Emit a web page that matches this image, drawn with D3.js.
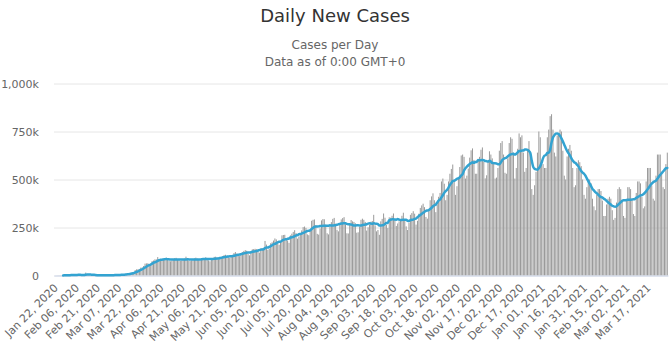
<!DOCTYPE html>
<html><head><meta charset="utf-8">
<script src="https://cdn.jsdelivr.net/npm/d3@7"></script>
<style>body{margin:0;background:#fff} svg{display:block}</style>
</head><body>
<svg id="chart" width="670" height="348"></svg>
<script>
// ---- DATA (daily new cases, thousands) ----
const startDate = "2020-01-22";
const cases2020Jan = [0.1, 0.1, 0.3, 0.7, 0.7, 0.8, 1.8, 1.5, 2.0, 2.1];
const cases2020Feb = [2.6, 2.8, 3.2, 3.9, 3.7, 3.2, 3.4, 2.7, 3.0, 2.6, 2.0, 2.0, 15.1, 6.5, 2.1, 2.1, 2.0, 1.9, 1.7, 0.5, 1.0, 1.0, 0.6, 0.6, 0.9, 1.0, 1.3, 1.8, 1.8];
const cases2020Mar = [2.1, 1.9, 2.4, 2.3, 2.7, 3.9, 3.9, 3.9, 4.0, 4.4, 7.1, 7.4, 10.5, 10.8, 11.0, 14.0, 15.8, 18.0, 28.5, 32.0, 32.3, 34.3, 41.0, 41.6, 49.5, 62.0, 63.0, 64.0, 59.0, 60.0, 75.0];
const cases2020Apr = [78, 84, 84, 96, 80, 76, 80, 86, 90, 93, 85, 78, 74, 78, 84, 90, 92, 86, 80, 76, 78, 80, 88, 98, 90, 77, 75, 79, 79, 89];
const cases2020May = [93, 88, 80, 78, 82, 90, 91, 95, 89, 79, 74, 86, 89, 97, 98, 93, 84, 90, 94, 101, 107, 108, 101, 95, 92, 99, 106, 117, 122, 114, 105];
const cases2020Jun = [101, 114, 122, 128, 132, 129, 112, 105, 123, 136, 138, 139, 137, 134, 119, 141, 142, 144, 180, 161, 134, 140, 168, 173, 182, 193, 188, 164, 160, 173];
const cases2020Jul = [209, 211, 212, 191, 182, 170, 209, 218, 227, 236, 221, 192, 203, 216, 235, 252, 255, 248, 214, 210, 232, 285, 290, 292, 262, 217, 213, 245, 287, 294, 293];
const cases2020Aug = [265, 220, 214, 256, 278, 295, 300, 270, 238, 230, 271, 292, 299, 304, 267, 220, 219, 264, 289, 282, 279, 272, 223, 225, 253, 290, 296, 290, 279, 234, 251];
const cases2020Sep = [265, 280, 284, 316, 261, 230, 237, 212, 282, 295, 323, 301, 263, 247, 303, 301, 311, 323, 293, 258, 271, 282, 289, 311, 327, 294, 256, 237, 275, 316];
const cases2020Oct = [325, 335, 322, 265, 285, 322, 352, 365, 374, 356, 305, 296, 335, 392, 412, 428, 392, 330, 370, 410, 430, 490, 505, 478, 392, 420, 490, 530, 555, 578, 490];
const cases2020Nov = [420, 465, 505, 565, 625, 630, 618, 505, 520, 557, 614, 652, 662, 602, 530, 530, 608, 618, 655, 667, 592, 506, 522, 592, 647, 630, 610, 590, 505, 510];
const cases2020Dec = [560, 650, 690, 700, 630, 535, 530, 610, 690, 720, 712, 640, 505, 560, 660, 740, 720, 730, 640, 540, 560, 650, 700, 640, 450, 420, 470, 540, 640, 750, 720];
const cases2021Jan = [580, 580, 560, 560, 720, 760, 830, 840, 760, 640, 620, 730, 740, 760, 750, 650, 520, 500, 620, 660, 680, 650, 560, 460, 470, 560, 600, 590, 570, 500, 420];
const cases2021Feb = [400, 460, 500, 500, 480, 400, 360, 340, 420, 450, 450, 440, 390, 310, 310, 370, 400, 410, 400, 340, 290, 300, 380, 450, 460, 450, 390, 310];
const cases2021Mar = [300, 390, 460, 460, 450, 400, 320, 310, 430, 490, 490, 480, 410, 350, 360, 490, 560, 560, 560, 470, 400, 390, 520, 630, 630, 630, 530, 460, 450, 580, 640];

const yTickValues = [0, 250, 500, 750, 1000];
const yTickLabels = ["0", "250k", "500k", "750k", "1,000k"];
const xTickLabels = ["Jan 22, 2020","Feb 06, 2020","Feb 21, 2020","Mar 07, 2020","Mar 22, 2020","Apr 06, 2020","Apr 21, 2020","May 06, 2020","May 21, 2020","Jun 05, 2020","Jun 20, 2020","Jul 05, 2020","Jul 20, 2020","Aug 04, 2020","Aug 19, 2020","Sep 03, 2020","Sep 18, 2020","Oct 03, 2020","Oct 18, 2020","Nov 02, 2020","Nov 17, 2020","Dec 02, 2020","Dec 17, 2020","Jan 01, 2021","Jan 16, 2021","Jan 31, 2021","Feb 15, 2021","Mar 02, 2021","Mar 17, 2021"];
const titleText = "Daily New Cases";
const subtitleLines = ["Cases per Day", "Data as of 0:00 GMT+0"];
const avgWindow = 7;

// ---- BUILD ----
const daily = [].concat(cases2020Jan, cases2020Feb, cases2020Mar, cases2020Apr, cases2020May, cases2020Jun,
  cases2020Jul, cases2020Aug, cases2020Sep, cases2020Oct, cases2020Nov, cases2020Dec,
  cases2021Jan, cases2021Feb, cases2021Mar);
const parseDate = d3.timeParse("%Y-%m-%d"), fmtDate = d3.timeFormat("%b %d, %Y");
const t0 = parseDate(startDate);
const dates = daily.map((_, i) => fmtDate(d3.timeDay.offset(t0, i)));
const movingAvg = daily.map((_, i) => i >= avgWindow - 1 ? d3.mean(daily.slice(i - avgWindow + 1, i + 1)) : null);

const W = 670, H = 348;
const mLeft = 54, mRight = 668, mTop = 83.5, mBottom = 275.5;
const svg = d3.select("#chart");
const font = "'DejaVu Sans', 'Open Sans', sans-serif";

const x = d3.scaleBand().domain(dates).range([mLeft, mRight]).paddingInner(0.3).paddingOuter(0.15);
const y = d3.scaleLinear().domain([0, 1000]).range([mBottom, mTop]);

// title
svg.append("text").attr("x", W / 2).attr("y", 22).attr("text-anchor", "middle")
  .attr("font-family", font).attr("font-size", 18).attr("fill", "#333").text(titleText);
svg.append("g").selectAll("text").data(subtitleLines).join("text")
  .attr("x", W / 2).attr("y", (d, i) => 49 + i * 17).attr("text-anchor", "middle")
  .attr("font-family", font).attr("font-size", 12).attr("fill", "#666").text(d => d);

// grid + y labels
const yAxis = d3.axisLeft(y).tickValues(yTickValues).tickSize(-(mRight - mLeft)).tickFormat((d, i) => yTickLabels[i]);
const gy = svg.append("g").attr("transform", `translate(${mLeft},0)`).call(yAxis);
gy.select(".domain").remove();
gy.selectAll(".tick line").attr("stroke", "#e6e6e6");
gy.selectAll(".tick text").attr("x", -15).attr("font-family", font).attr("font-size", 11).attr("fill", "#666");

// bars
svg.append("g").selectAll("rect").data(daily).join("rect")
  .attr("x", (d, i) => x(dates[i]))
  .attr("width", x.bandwidth())
  .attr("y", d => y(d))
  .attr("height", d => mBottom - y(d))
  .attr("fill", "#999");

// x axis
const xAxis = d3.axisBottom(x).tickValues(xTickLabels).tickSize(0).tickSizeOuter(0);
const gx = svg.append("g").attr("transform", `translate(0,${mBottom})`).call(xAxis);
gx.select(".domain").attr("stroke", "#ccd6eb");
gx.selectAll(".tick text")
  .attr("font-family", font).attr("font-size", 11).attr("fill", "#666")
  .attr("text-anchor", "end").attr("dy", 0).attr("y", 0)
  .attr("transform", "translate(4,13) rotate(-45)");

// moving average line
const line = d3.line()
  .defined(d => d != null)
  .x((d, i) => x(dates[i]) + x.bandwidth() / 2)
  .y(d => y(d))
  .curve(d3.curveMonotoneX);
svg.append("path").datum(movingAvg).attr("fill", "none")
  .attr("stroke", "#33a3d1").attr("stroke-width", 2.5)
  .attr("stroke-linejoin", "round").attr("stroke-linecap", "round")
  .attr("d", line);
</script>
</body></html>
